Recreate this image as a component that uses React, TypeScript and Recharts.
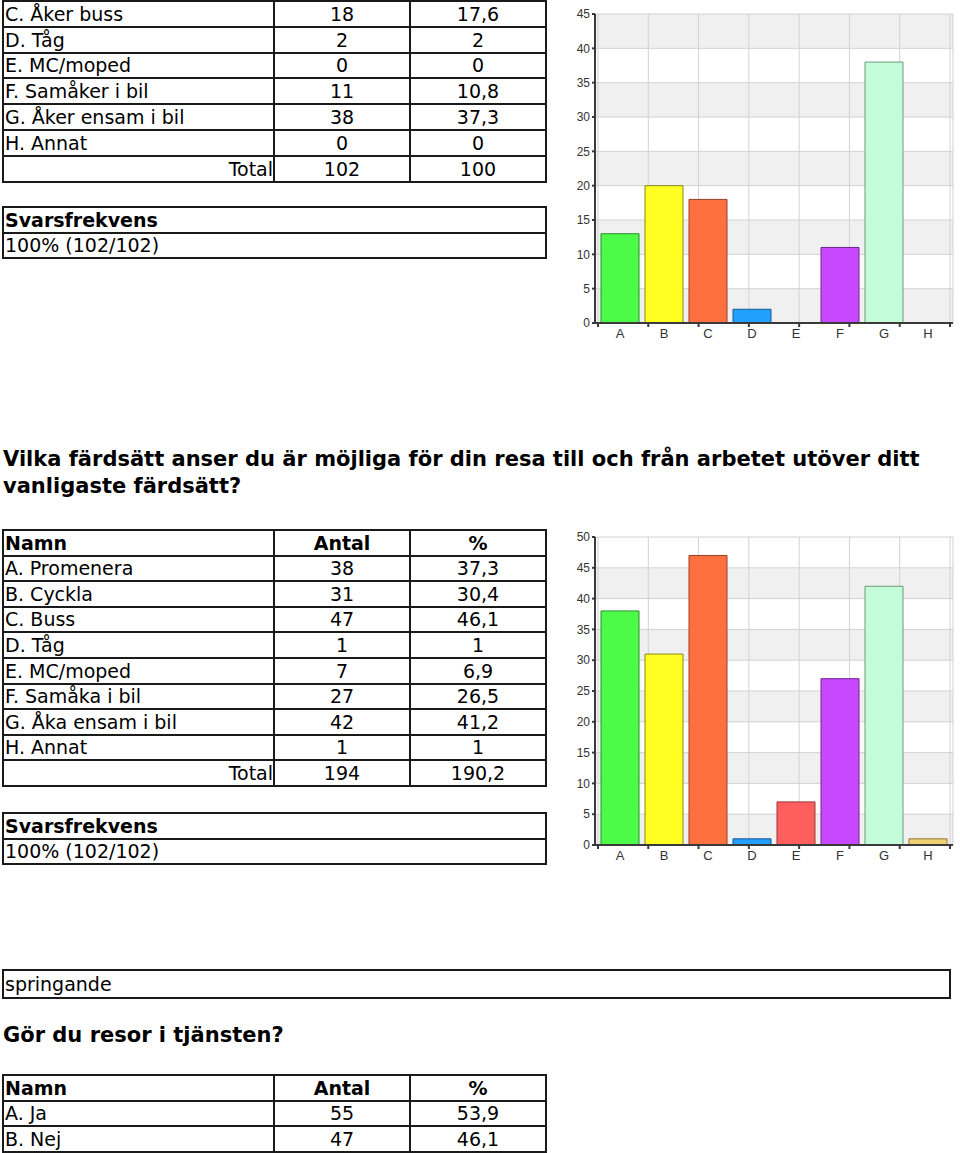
import { Bar, BarChart, CartesianGrid, Cell, XAxis, YAxis } from 'recharts';

// ---- data ----
const letters = ['A', 'B', 'C', 'D', 'E', 'F', 'G', 'H'];

// Fråga 1 (tabellen börjar ovanför sidan, rad C och framåt syns)
const q1Names = ['C. Åker buss', 'D. Tåg', 'E. MC/moped', 'F. Samåker i bil', 'G. Åker ensam i bil', 'H. Annat'];
const q1Counts = ['18', '2', '0', '11', '38', '0'];
const q1Pct = ['17,6', '2', '0', '10,8', '37,3', '0'];
const q1Values = [13, 20, 18, 2, 0, 11, 38, 0];
const q1Total = ['102', '100'];
const q1Ticks = [0, 5, 10, 15, 20, 25, 30, 35, 40, 45];

// Fråga 2
const q2Title = 'Vilka färdsätt anser du är möjliga för din resa till och från arbetet utöver ditt';
const q2Title2 = 'vanligaste färdsätt?';
const q2Names = ['A. Promenera', 'B. Cyckla', 'C. Buss', 'D. Tåg', 'E. MC/moped', 'F. Samåka i bil', 'G. Åka ensam i bil', 'H. Annat'];
const q2Counts = ['38', '31', '47', '1', '7', '27', '42', '1'];
const q2Pct = ['37,3', '30,4', '46,1', '1', '6,9', '26,5', '41,2', '1'];
const q2Values = [38, 31, 47, 1, 7, 27, 42, 1];
const q2Total = ['194', '190,2'];
const q2Ticks = [0, 5, 10, 15, 20, 25, 30, 35, 40, 45, 50];

const svarsText = '100% (102/102)';
const freeText = 'springande';

// Fråga 3
const q3Title = 'Gör du resor i tjänsten?';
const q3Names = ['A. Ja', 'B. Nej'];
const q3Counts = ['55', '47'];
const q3Pct = ['53,9', '46,1'];

const barFills = ['#4cfb48', '#ffff22', '#ff7040', '#22a0ff', '#ff5e5e', '#c848ff', '#c2fcd8', '#f0d070'];
const barStrokes = ['#2e8a2e', '#8a8620', '#984026', '#1a5690', '#983838', '#6a2690', '#6e9a7e', '#907a3a'];

const TEXT_FONT = '"DejaVu Sans", Verdana, sans-serif';
const AXIS_FONT = '"Liberation Sans", Arial, sans-serif';

const COLS = [2, 273, 409, 545];

type Cell3 = { text: string; align: 'left' | 'center' | 'right'; bold?: boolean };

function Grid({ top, rowH, rows, cols }: { top: number; rowH: number; rows: Cell3[][]; cols: number[] }) {
  const out: JSX.Element[] = [];
  rows.forEach((row, r) => {
    const y0 = Math.round(top + r * rowH);
    const y1 = Math.round(top + (r + 1) * rowH);
    row.forEach((c, ci) => {
      const x0 = cols[ci];
      const x1 = cols[ci + 1];
      out.push(
        <div
          key={`${r}-${ci}`}
          style={{
            position: 'absolute',
            left: x0,
            top: y0,
            width: x1 - x0 + 2,
            height: y1 - y0 + 2,
            boxSizing: 'border-box',
            border: '2px solid #1a1a1a',
            fontFamily: TEXT_FONT,
            fontSize: 19,
            fontWeight: c.bold ? 700 : 400,
            lineHeight: `${y1 - y0 - 2}px`,
            textAlign: c.align,
            paddingLeft: c.align === 'left' ? 1 : 0,
            whiteSpace: 'nowrap',
            overflow: 'hidden',
            color: '#000',
          }}
        >
          {c.text}
        </div>,
      );
    });
  });
  return <>{out}</>;
}

function tableRows(names: string[], counts: string[], pct: string[], header: boolean, total?: string[]): Cell3[][] {
  const rows: Cell3[][] = [];
  if (header) {
    rows.push([
      { text: 'Namn', align: 'left', bold: true },
      { text: 'Antal', align: 'center', bold: true },
      { text: '%', align: 'center', bold: true },
    ]);
  }
  names.forEach((n, i) => {
    rows.push([
      { text: n, align: 'left' },
      { text: counts[i], align: 'center' },
      { text: pct[i], align: 'center' },
    ]);
  });
  if (total) {
    rows.push([
      { text: 'Total', align: 'right' },
      { text: total[0], align: 'center' },
      { text: total[1], align: 'center' },
    ]);
  }
  return rows;
}

function Svars({ top }: { top: number }) {
  return (
    <Grid
      top={top}
      rowH={25.5}
      cols={[2, 545]}
      rows={[[{ text: 'Svarsfrekvens', align: 'left', bold: true }], [{ text: svarsText, align: 'left' }]]}
    />
  );
}

function Title({ top, text }: { top: number; text: string }) {
  return (
    <div
      style={{
        position: 'absolute',
        left: 3,
        top,
        fontFamily: TEXT_FONT,
        fontWeight: 700,
        fontSize: 21,
        lineHeight: '27px',
        whiteSpace: 'nowrap',
        color: '#000',
      }}
    >
      {text}
    </div>
  );
}

function SurveyBars({ values, ticks, top, height, marginTop }: { values: number[]; ticks: number[]; top: number; height: number; marginTop: number }) {
  const data = letters.map((l, i) => ({ letter: l, value: values[i] }));
  const bands = ticks.length - 1;
  // bandet närmast noll är grått
  const stripes = bands % 2 === 1 ? ['#f0f0f0', '#ffffff'] : ['#ffffff', '#f0f0f0'];
  const bounds = letters.map((_, i) => i).concat([letters.length]);
  return (
    <div style={{ position: 'absolute', left: 560, top, width: 400, height, fontFamily: AXIS_FONT }}>
      <BarChart
        width={400}
        height={height}
        data={data}
        margin={{ top: marginTop, right: 7, bottom: 0, left: 0 }}
        barCategoryGap={3}
      >
        <CartesianGrid xAxisId="a" stroke="#d2d2d2" horizontalFill={stripes} fillOpacity={1} />
        <XAxis
          xAxisId="a"
          type="number"
          domain={[0, letters.length]}
          ticks={bounds}
          interval={0}
          allowDataOverflow
          padding={{ left: 3, right: 3 }}
          height={5}
          tickSize={4}
          tickFormatter={() => ''}
          stroke="#3a3a3a"
          strokeWidth={2}
        />
        <XAxis
          xAxisId="b"
          dataKey="letter"
          height={22}
          tickSize={0}
          tickMargin={1}
          axisLine={false}
          tickLine={false}
          interval={0}
          padding={{ left: 3, right: 3 }}
          tick={{ fontSize: 13, fill: '#333' }}
        />
        <YAxis
          domain={[0, ticks[ticks.length - 1]]}
          ticks={ticks}
          interval={0}
          width={35}
          tickSize={3}
          tickMargin={2}
          stroke="#3a3a3a"
          strokeWidth={2}
          tick={{ fontSize: 12, fill: '#333' }}
        />
        <Bar xAxisId="b" dataKey="value" strokeWidth={1} isAnimationActive={false}>
          {data.map((d, i) => (
            <Cell key={d.letter} fill={barFills[i]} stroke={barStrokes[i]} />
          ))}
        </Bar>
      </BarChart>
    </div>
  );
}

export default function App() {
  return (
    <div style={{ position: 'absolute', left: 0, top: 0, width: 960, height: 1153, background: '#fff', overflow: 'hidden' }}>
      <Grid top={0} rowH={25.8} cols={COLS} rows={tableRows(q1Names, q1Counts, q1Pct, false, q1Total)} />
      <Svars top={206} />
      <SurveyBars values={q1Values} ticks={q1Ticks} top={0} height={350} marginTop={14} />

      <Title top={446} text={q2Title} />
      <Title top={473} text={q2Title2} />

      <Grid top={529} rowH={25.6} cols={COLS} rows={tableRows(q2Names, q2Counts, q2Pct, true, q2Total)} />
      <Svars top={812} />
      <SurveyBars values={q2Values} ticks={q2Ticks} top={525} height={347} marginTop={12} />

      <Grid top={969} rowH={28} cols={[2, 949]} rows={[[{ text: freeText, align: 'left' }]]} />

      <Title top={1022} text={q3Title} />
      <Grid top={1074} rowH={25.7} cols={COLS} rows={tableRows(q3Names, q3Counts, q3Pct, true)} />
    </div>
  );
}
